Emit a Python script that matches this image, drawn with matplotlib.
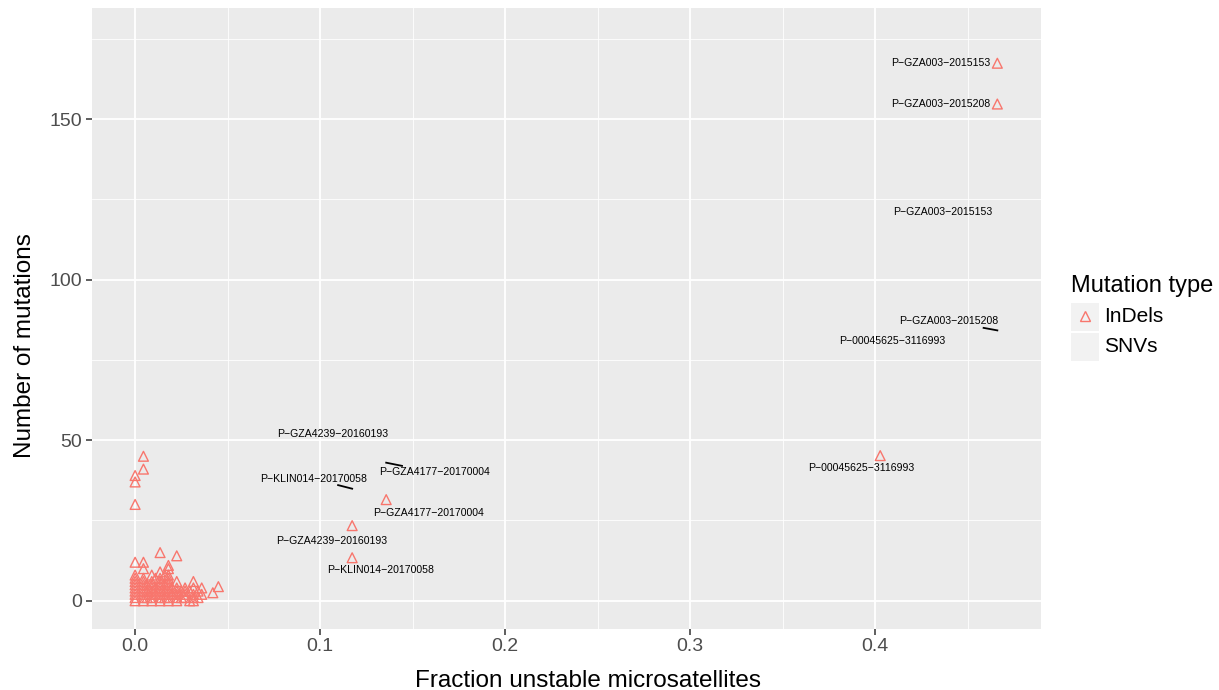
import matplotlib
matplotlib.use("Agg")
import matplotlib.pyplot as plt
from matplotlib.lines import Line2D
from matplotlib.patches import Rectangle

plt.rcParams['font.family'] = ['Liberation Sans', 'DejaVu Sans']

# ---------------- data ----------------
# unlabelled InDel points (fraction unstable, number of mutations)
indel_x = ([0.0] * 13 + [0.0045] * 12 + [0.0065] * 3 + [0.009] * 8 + [0.011] * 3 +
           [0.0135] * 10 + [0.016] * 4 + [0.018] * 11 + [0.02] * 2 + [0.0225] * 7 +
           [0.025] * 2 + [0.027] * 4 + [0.0295] * 2 + [0.0315] * 5 + [0.034] * 2 +
           [0.036] * 2 + [0.042] + [0.045])
indel_y = ([0, 1, 2, 3, 4, 5, 6, 7, 8, 12, 30, 37, 39] +
           [0, 1, 2, 3, 4, 5, 6, 7, 10, 12, 41, 45] +
           [1, 3, 5] +
           [0, 1, 2, 3, 4, 5, 6, 8] +
           [2, 4, 7] +
           [0, 1, 2, 3, 4, 5, 6, 7, 9, 15] +
           [1, 3, 5, 8] +
           [0, 1, 2, 3, 4, 5, 6, 7, 8, 10, 11] +
           [2, 4] +
           [0, 1, 2, 3, 4, 6, 14] +
           [1, 3] +
           [1, 2, 3, 4] +
           [0, 3] +
           [0, 1, 2, 4, 6] +
           [1, 3] +
           [2, 4] +
           [2.5] +
           [4.4])

# labelled InDel samples
indel_names = ["P\u2212GZA003\u22122015153", "P\u2212GZA003\u22122015208", "P\u221200045625\u22123116993",
               "P\u2212GZA4177\u221220170004", "P\u2212GZA4239\u221220160193", "P\u2212KLIN014\u221220170058"]
indel_lx = [0.466, 0.466, 0.4027, 0.1357, 0.1173, 0.1173]
indel_ly = [167.4, 154.7, 45.2, 31.5, 23.4, 13.4]

# labelled SNV samples (points not drawn in the reference)
snv_names = ["P\u2212GZA003\u22122015153", "P\u2212GZA003\u22122015208", "P\u221200045625\u22123116993",
             "P\u2212GZA4239\u221220160193", "P\u2212KLIN014\u221220170058", "P\u2212GZA4177\u221220170004"]
snv_x = [0.466, 0.466, 0.4027, 0.1173, 0.1173, 0.1357]
snv_y = [121, 84.2, 81, 52, 34.9, 43.0]

x_ticks = [0.0, 0.1, 0.2, 0.3, 0.4]
x_ticklabels = ["0.0", "0.1", "0.2", "0.3", "0.4"]
y_ticks = [0, 50, 100, 150]
y_ticklabels = ["0", "50", "100", "150"]

# ---------------- layout ----------------
# label offsets (data units) relative to each point
indel_off = [(-0.0305, 0), (-0.0305, 0), (-0.0103, -3.7), (0.0227, -4.1), (-0.0108, -4.7), (0.0151, -3.7)]
snv_off = [(-0.0295, 0), (-0.0265, 2.8), (0.0063, -0.2), (-0.0103, -0.2), (-0.0211, 3.1), (0.0259, -3.0)]
# segment ends (fraction of the way from point to label) ; None = no segment
snv_seg = [None, 0.28, None, None, 0.36, 0.33]

W, H = 1219, 690
fig = plt.figure(figsize=(W / 100, H / 100), dpi=100)
ax = fig.add_axes([92 / W, (H - 628.7) / H, (1041 - 92) / W, (628.7 - 8) / H])

red = "#F8766D"
ax.set_facecolor("#EBEBEB")
all_x = indel_x + indel_lx
all_y = indel_y + indel_ly
ax.scatter(all_x, all_y, marker="^", s=50, facecolors="none", edgecolors=red,
           linewidths=1.0, zorder=3)

lab_fs = 7.6
for n, x, y, (dx, dy) in zip(indel_names, indel_lx, indel_ly, indel_off):
    ax.text(x + dx, y + dy, n, fontsize=lab_fs, ha="center", va="center", color="black", zorder=4)

for n, x, y, (dx, dy), seg in zip(snv_names, snv_x, snv_y, snv_off, snv_seg):
    ax.text(x + dx, y + dy, n, fontsize=lab_fs, ha="center", va="center", color="black", zorder=4)
    if seg is not None:
        ax.plot([x, x + dx * seg], [y, y + dy * seg], color="black", lw=1.3, zorder=4)

xmin, xmax = -0.0233, 0.4896
ymin, ymax = -8.7, 184.6
ax.set_xlim(xmin, xmax)
ax.set_ylim(ymin, ymax)

ax.set_xticks(x_ticks)
ax.set_xticklabels(x_ticklabels)
ax.set_yticks(y_ticks)
ax.set_yticklabels(y_ticklabels)
ax.set_xticks([0.05, 0.15, 0.25, 0.35, 0.45], minor=True)
ax.set_yticks([25, 75, 125, 175], minor=True)
ax.grid(which="major", color="white", lw=1.3, zorder=0)
ax.grid(which="minor", color="white", lw=0.6, zorder=0)
ax.set_axisbelow(True)
ax.tick_params(which="major", length=4, width=1.1, color="#333333", labelcolor="#4D4D4D",
               labelsize=14, pad=3)
ax.tick_params(which="minor", length=0)
for s in ax.spines.values():
    s.set_visible(False)

# axis titles (placed as in the reference, slightly off-centre)
fig.text(415 / W, 1 - 687 / H, "Fraction unstable microsatellites", fontsize=17.5,
         color="black", ha="left", va="baseline")
fig.text(25 / W, 1 - 458 / H, "Number of mutations", fontsize=17.5, color="black",
         rotation=90, ha="center", va="bottom")

# ---------------- legend ----------------
fig.text(1071 / W, 1 - 286 / H, "Mutation type", fontsize=17, ha="left", va="center")
for i, lab in enumerate(["InDels", "SNVs"]):
    yc = 317 + i * 30
    fig.add_artist(Rectangle((1071 / W, 1 - (yc + 14) / H), 28 / W, 28 / H,
                             transform=fig.transFigure, facecolor="#F2F2F2",
                             edgecolor="none"))
    fig.text(1104 / W, 1 - yc / H, lab, fontsize=15, ha="left", va="center")
fig.add_artist(Line2D([1085 / W], [1 - 316 / H], marker="^", markersize=6.5,
                      markerfacecolor="none", markeredgecolor=red, markeredgewidth=1.0,
                      linestyle="none", transform=fig.transFigure))

fig.savefig("out.png", dpi=100)
